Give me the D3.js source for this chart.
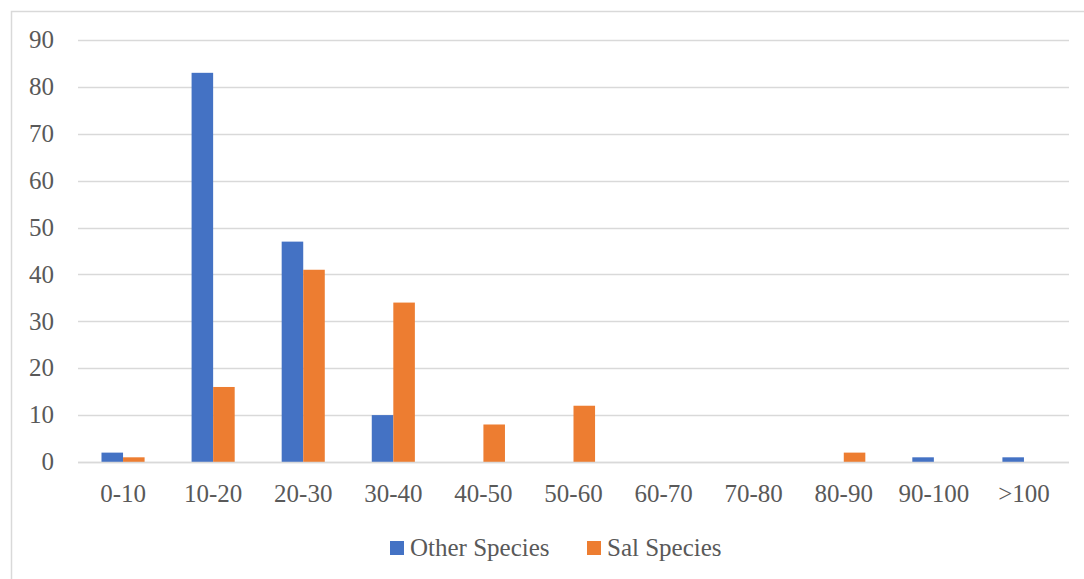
<!DOCTYPE html>
<html>
<head>
<meta charset="utf-8">
<script src="https://cdn.jsdelivr.net/npm/d3@7"></script>
<style>
  body { margin: 0; background: #fff; }
  svg { display: block; }
</style>
</head>
<body>
<div id="chart"></div>
<script>
const categories = ["0-10","10-20","20-30","30-40","40-50","50-60","60-70","70-80","80-90","90-100",">100"]
const otherSpecies = [2, 83, 47, 10, 0, 0, 0, 0, 0, 1, 1]
const salSpecies = [1, 16, 41, 34, 8, 12, 0, 0, 2, 0, 0]
const seriesNames = ["Other Species", "Sal Species"]
const yTicks = [0, 10, 20, 30, 40, 50, 60, 70, 80, 90]

const width = 1084
const height = 579
const margin = {top: 40, right: 15, bottom: 117, left: 78}
const font = "'Liberation Serif', 'Times New Roman', serif"

const svg = d3.select("#chart")
  .append("svg")
  .attr("width", width)
  .attr("height", height)

// outer chart border
svg.append("rect")
  .attr("x", 11.5).attr("y", 11.5)
  .attr("width", width).attr("height", height)
  .attr("fill", "none")
  .attr("stroke", "#d9d9d9")
  .attr("stroke-width", 1.5)

const x = d3.scaleBand()
  .domain(categories)
  .range([margin.left, width - margin.right])

const x1 = d3.scaleBand()
  .domain(seriesNames)
  .range([0, x.bandwidth()])
  .paddingInner(0)
  .paddingOuter(1.09)

const y = d3.scaleLinear()
  .domain([0, 90])
  .range([height - margin.bottom, margin.top])

const color = d3.scaleOrdinal()
  .domain(seriesNames)
  .range(["#4472c4", "#ed7d31"])

// gridlines
svg.append("g")
  .selectAll("line")
  .data(yTicks)
  .join("line")
  .attr("x1", margin.left)
  .attr("x2", width - margin.right)
  .attr("y1", d => Math.round(y(d)) + 0.5)
  .attr("y2", d => Math.round(y(d)) + 0.5)
  .attr("stroke", "#d9d9d9")
  .attr("stroke-width", 1.5)

// y tick labels
svg.append("g")
  .selectAll("text")
  .data(yTicks)
  .join("text")
  .attr("x", 54)
  .attr("y", d => y(d))
  .attr("dy", "0.33em")
  .attr("text-anchor", "end")
  .style("font-family", font)
  .style("font-size", "25px")
  .style("fill", "#595959")
  .text(d => d)

const rows = categories.map((c, i) => ({cat: c, values: [otherSpecies[i], salSpecies[i]]}))

// bars
svg.append("g")
  .selectAll("g")
  .data(rows)
  .join("g")
  .attr("transform", d => `translate(${x(d.cat)},0)`)
  .selectAll("rect")
  .data(d => d.values.map((v, j) => ({name: seriesNames[j], value: v})))
  .join("rect")
  .attr("x", d => x1(d.name))
  .attr("width", x1.bandwidth())
  .attr("y", d => y(d.value))
  .attr("height", d => y(0) - y(d.value))
  .attr("fill", d => color(d.name))

// x axis line on top of bars
svg.append("line")
  .attr("x1", margin.left)
  .attr("x2", width - margin.right)
  .attr("y1", Math.round(y(0)) + 0.5)
  .attr("y2", Math.round(y(0)) + 0.5)
  .attr("stroke", "#d9d9d9")
  .attr("stroke-width", 1.5)

// category labels
svg.append("g")
  .selectAll("text")
  .data(categories)
  .join("text")
  .attr("x", d => x(d) + x.bandwidth() / 2)
  .attr("y", 502)
  .attr("text-anchor", "middle")
  .style("font-family", font)
  .style("font-size", "25px")
  .style("fill", "#595959")
  .text(d => d)

// legend
const legendX = [390, 587]
const legend = svg.append("g")
  .selectAll("g")
  .data(seriesNames)
  .join("g")
  .attr("transform", (d, i) => `translate(${legendX[i]},541)`)

legend.append("rect")
  .attr("width", 14)
  .attr("height", 14)
  .attr("fill", d => color(d))

legend.append("text")
  .attr("x", 20)
  .attr("y", 15)
  .style("font-family", font)
  .style("font-size", "25px")
  .style("fill", "#595959")
  .text(d => d)
</script>
</body>
</html>
